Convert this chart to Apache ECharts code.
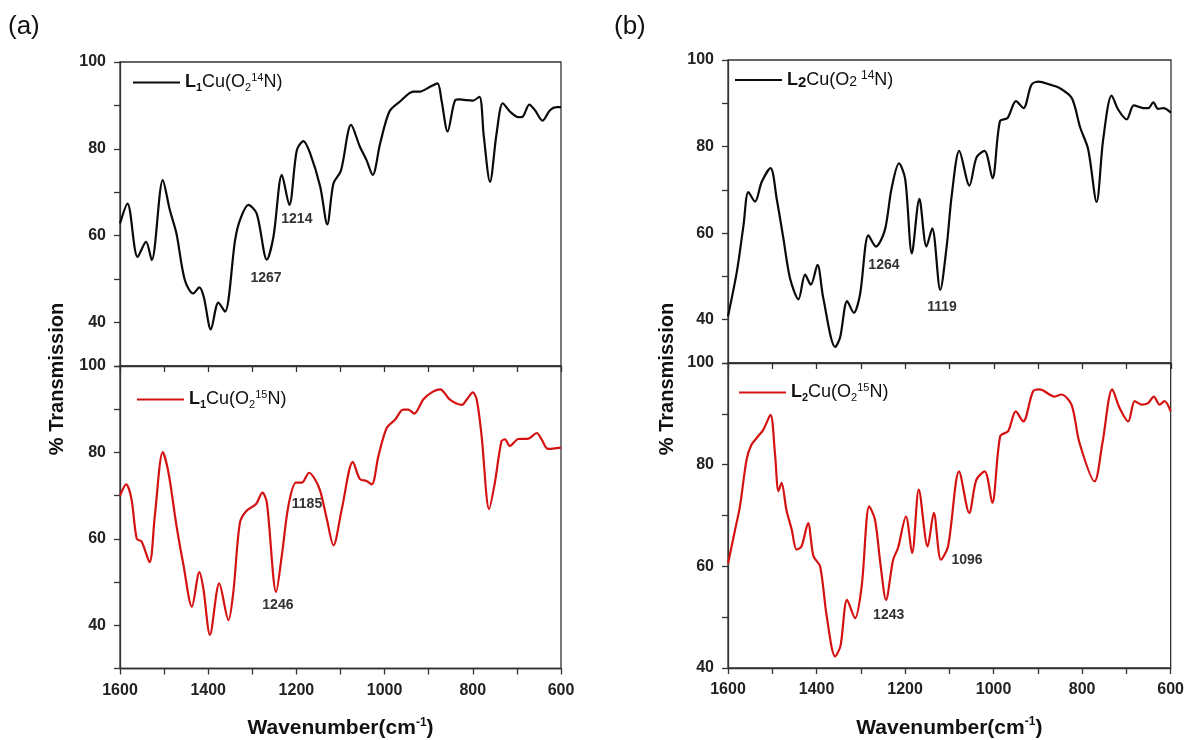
<!DOCTYPE html>
<html>
<head>
<meta charset="utf-8">
<script src="https://cdn.jsdelivr.net/npm/echarts@6/dist/echarts.min.js"></script>
<style>
html,body{margin:0;padding:0;background:#fff;}
#chart{width:1187px;height:740px;}
</style>
</head>
<body>
<div id="chart"></div>
<script>
// ---------- DATA ----------
const xTicks = [1600, 1400, 1200, 1000, 800, 600];

// Panel (a) top: L1Cu(O2 14N)
const aTopWn = [1600,1583,1560,1541,1528,1503,1487,1472,1453,1434,1420,1410,1394,1377,1362,1339,1328,1309,1290,1267,1252,1233,1216,1199,1184,1169,1146,1130,1116,1099,1076,1056,1041,1027,1010,989,965,935,920,897,880,871,857,840,829,814,800,785,775,761,746,732,716,697,687,672,659,642,625,610,600];
const aTopT  = [62.8,67.4,55.1,58.6,54.4,72.8,65.9,60.5,49.8,46.7,48.1,45.9,38.4,44.6,42.5,59.0,63.6,67.1,65.1,54.5,59.8,74.0,67.1,79.7,81.8,79.0,71.3,62.6,72.0,75.0,85.5,80.5,77.4,74.0,81.3,88.6,90.9,93.2,93.2,94.3,95.1,91.2,84.0,91.2,91.4,91.2,91.1,92.0,82.8,72.4,83.6,90.5,88.6,87.3,87.4,90.2,88.9,86.5,88.9,89.6,89.6];

// Panel (a) bottom: L1Cu(O2 15N)
const aBotWn = [1600,1586,1574,1562,1551,1533,1521,1503,1490,1472,1456,1437,1420,1411,1396,1375,1354,1343,1328,1313,1292,1277,1267,1246,1233,1218,1201,1188,1171,1158,1146,1131,1116,1097,1072,1056,1041,1029,1014,995,976,958,946,933,912,893,874,852,825,814,800,791,780,763,750,735,727,716,697,674,655,644,629,600];
const aBotT  = [70.0,72.6,69.2,60.0,59.4,54.6,65.4,80.1,75.3,63.1,53.9,44.3,52.3,48.5,37.8,49.7,41.2,47.7,63.8,66.5,68.0,70.7,68.4,47.7,56.2,67.7,73.0,73.0,75.3,73.8,71.1,64.6,58.5,66.9,77.8,73.8,73.4,72.6,79.2,85.7,87.6,89.9,89.9,89.0,92.3,93.9,94.6,92.2,91.0,92.2,93.9,92.2,83.8,66.9,73.0,82.6,83.0,81.5,83.1,83.2,84.5,83.0,80.8,81.1];

// Panel (b) top: L2Cu(O2 14N)
const bTopWn = [1600,1580,1565,1554,1539,1524,1504,1490,1475,1460,1441,1426,1413,1398,1385,1358,1347,1331,1316,1302,1283,1266,1246,1231,1214,1200,1185,1168,1152,1139,1121,1106,1095,1078,1055,1039,1021,1003,986,969,950,933,915,899,873,851,824,805,787,768,753,734,719,700,684,662,651,640,629,617,600];
const bTopT  = [40.8,51.1,61.8,69.5,67.3,71.8,75.0,67.9,58.8,49.6,44.7,50.4,48.1,52.7,45.0,33.7,35.9,44.3,41.6,45.8,59.5,56.9,60.7,70.2,76.1,72.5,55.3,67.9,56.9,61.1,46.9,57.3,68.7,79.0,71.0,77.5,79.0,72.7,85.9,86.6,90.5,88.9,94.3,95.0,94.3,93.5,91.2,84.4,79.4,67.2,81.7,91.8,88.5,86.3,89.5,88.9,88.9,90.2,88.7,88.9,87.8];

// Panel (b) bottom: L2Cu(O2 15N)
const bBotWn = [1600,1584,1573,1558,1547,1532,1520,1504,1494,1486,1479,1468,1456,1445,1434,1419,1407,1392,1377,1358,1346,1331,1313,1298,1281,1268,1255,1243,1227,1216,1198,1184,1169,1149,1135,1119,1103,1078,1055,1039,1020,1003,985,967,950,933,911,896,862,847,824,806,772,754,732,715,696,681,666,651,638,625,614,600];
const bBotT  = [60.5,67.2,71.8,81.0,83.9,85.6,86.9,89.8,82.3,74.8,76.4,71.1,67.2,63.3,63.9,68.5,62.0,60.0,50.2,42.3,44.3,53.4,49.8,56.1,71.8,69.2,60.0,53.4,61.3,63.6,69.8,62.6,75.1,63.9,70.5,61.3,63.9,78.7,70.5,77.0,78.7,72.5,85.6,86.6,90.5,88.5,94.4,94.8,93.4,93.8,91.8,84.3,76.7,84.3,94.8,91.1,88.5,92.5,91.8,92.1,93.4,91.8,92.5,90.5];

// Peak annotations: label text, wavenumber and transmission at the label's centre
const aTopNotes = [['1267', 1269, 50.2], ['1214', 1199, 63.8]];
const aBotNotes = [['1246', 1242, 44.6], ['1185', 1176, 68.0]];
const bTopNotes = [['1264', 1248, 52.5], ['1119', 1117, 42.9]];
const bBotNotes = [['1243', 1237, 50.4], ['1096', 1060, 61.2]];

const seriesNames = ['L1Cu(O2 14N)', 'L1Cu(O2 15N)', 'L2Cu(O2 14N)', 'L2Cu(O2 15N)'];
const legendTexts = {
  'L1Cu(O2 14N)': '{b|L}{bsub|1}{n|Cu(O}{sub|2}{sup|14}{n|N)}',
  'L1Cu(O2 15N)': '{b|L}{bsub|1}{n|Cu(O}{sub|2}{sup|15}{n|N)}',
  'L2Cu(O2 14N)': '{b|L}{b2|2}{n|Cu(O}{n2|2 }{sup2|14}{n|N)}',
  'L2Cu(O2 15N)': '{b|L}{bsub|2}{n|Cu(O}{sub|2}{sup|15}{n|N)}'
};

// ---------- BUILD ----------
const FONT = '"Liberation Sans", Arial, sans-serif';
const AX = '#333';
const BLACK = '#0a0a0a';
const RED = '#d41212';

function pairs(w, t) { return w.map((v, i) => [v, t[i]]); }

const grids = [
  {left: 120, top: 62, width: 441, height: 304},
  {left: 120, top: 366, width: 441, height: 303},
  {left: 728, top: 60, width: 443, height: 303},
  {left: 728, top: 363, width: 443, height: 305}
].map(g => Object.assign(g, {show: true, borderColor: AX, borderWidth: 1.3, containLabel: false}));

function xAxis(gi, bottom) {
  return {
    type: 'value', gridIndex: gi, min: 600, max: 1600, interval: 100, inverse: true,
    axisLine: {show: true, onZero: false, lineStyle: {color: AX, width: 1.3}},
    axisTick: {show: true, inside: false, length: 6, lineStyle: {color: AX, width: 1.3}},
    splitLine: {show: false},
    axisLabel: {
      show: bottom, margin: 14, color: '#222', fontFamily: FONT, fontWeight: 'bold', fontSize: 16,
      formatter: v => xTicks.includes(v) ? String(v) : ''
    },
    name: bottom ? 'Wavenumber(cm{sup|-1})' : '',
    nameLocation: 'middle', nameGap: 48,
    nameTextStyle: {
      color: '#111', fontFamily: FONT, fontWeight: 'bold', fontSize: 21,
      rich: {sup: {fontFamily: FONT, fontWeight: 'bold', fontSize: 12, color: '#111', padding: [0, 0, 12, 0]}}
    }
  };
}
function yAxis(gi, min) {
  return {
    type: 'value', gridIndex: gi, min: min, max: 100, interval: 10,
    axisLine: {show: true, onZero: false, lineStyle: {color: AX, width: 1.3}},
    axisTick: {show: true, inside: false, length: 6, lineStyle: {color: AX, width: 1.3}},
    splitLine: {show: false},
    axisLabel: {
      margin: 14, color: '#222', fontFamily: FONT, fontWeight: 'bold', fontSize: 16,
      formatter: v => (v % 20 === 0 && v > 30) ? String(v) : ''
    }
  };
}

function notes(arr) {
  return {
    symbol: 'circle', symbolSize: 1, itemStyle: {color: 'rgba(0,0,0,0)'},
    label: {show: true, position: 'inside', formatter: p => p.name, color: '#333',
      fontFamily: FONT, fontWeight: 'bold', fontSize: 14},
    data: arr.map(a => ({name: a[0], coord: [a[1], a[2]]}))
  };
}

function line(name, gi, data, color, noteArr) {
  return {
    name: name, type: 'line', xAxisIndex: gi, yAxisIndex: gi, data: data,
    symbol: 'none', smooth: 0.3, color: color,
    lineStyle: {color: color, width: 2.2}, animation: false,
    markPoint: notes(noteArr)
  };
}

const richLegend = {
  b: {fontFamily: FONT, fontWeight: 'bold', fontSize: 18, color: '#111'},
  b2: {fontFamily: FONT, fontWeight: 'bold', fontSize: 15, color: '#111', padding: [5, 0, 0, 0]},
  bsub: {fontFamily: FONT, fontWeight: 'bold', fontSize: 11, color: '#111', padding: [10, 0, 0, 0]},
  n: {fontFamily: FONT, fontSize: 18, color: '#111'},
  n2: {fontFamily: FONT, fontSize: 14, color: '#111', padding: [5, 0, 0, 0]},
  sub: {fontFamily: FONT, fontSize: 11, color: '#111', padding: [10, 0, 0, 0]},
  sup: {fontFamily: FONT, fontSize: 11, color: '#111', padding: [0, 0, 10, 0]},
  sup2: {fontFamily: FONT, fontSize: 12, color: '#111', padding: [0, 0, 8, 0]}
};
function legend(name, left, top) {
  return {
    data: [{name: name, icon: 'rect'}], left: left, top: top, padding: 0,
    itemWidth: 47, itemHeight: 2, itemGap: 0,
    selectedMode: false, formatter: n => legendTexts[n],
    textStyle: {rich: richLegend}
  };
}

const option = {
  backgroundColor: '#fff',
  animation: false,
  grid: grids,
  xAxis: [xAxis(0, false), xAxis(1, true), xAxis(2, false), xAxis(3, true)],
  yAxis: [yAxis(0, 30), yAxis(1, 30), yAxis(2, 30), yAxis(3, 40)],
  legend: [
    legend(seriesNames[0], 133, 72),
    legend(seriesNames[1], 137, 389),
    legend(seriesNames[2], 735, 70),
    legend(seriesNames[3], 739, 382)
  ],
  series: [
    line(seriesNames[0], 0, pairs(aTopWn, aTopT), BLACK, aTopNotes),
    line(seriesNames[1], 1, pairs(aBotWn, aBotT), RED, aBotNotes),
    line(seriesNames[2], 2, pairs(bTopWn, bTopT), BLACK, bTopNotes),
    line(seriesNames[3], 3, pairs(bBotWn, bBotT), RED, bBotNotes)
  ],
  graphic: [
    {type: 'text', x: 8, y: 14, style: {text: '(a)', font: '26px ' + FONT, fill: '#111'}},
    {type: 'text', x: 614, y: 14, style: {text: '(b)', font: '26px ' + FONT, fill: '#111'}},
    {type: 'text', x: 57, y: 379, rotation: Math.PI / 2,
      style: {text: '% Transmission', font: 'bold 20px ' + FONT, fill: '#111',
        align: 'center', verticalAlign: 'middle', textAlign: 'center', textVerticalAlign: 'middle'}},
    {type: 'text', x: 667, y: 379, rotation: Math.PI / 2,
      style: {text: '% Transmission', font: 'bold 20px ' + FONT, fill: '#111',
        align: 'center', verticalAlign: 'middle', textAlign: 'center', textVerticalAlign: 'middle'}}
  ]
};

const chart = echarts.init(document.getElementById('chart'), null, {renderer: 'canvas'});
chart.setOption(option);
</script>
</body>
</html>
